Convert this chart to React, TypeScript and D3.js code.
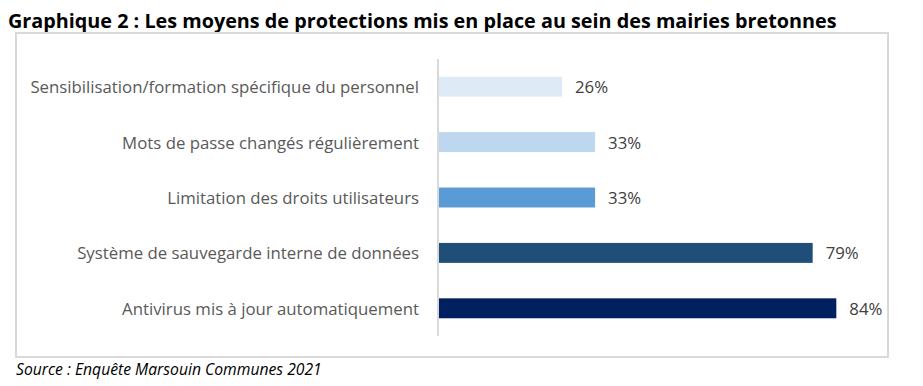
import React from "react";
import * as d3 from "d3";

const categories = [
  "Sensibilisation/formation spécifique du personnel",
  "Mots de passe changés régulièrement",
  "Limitation des droits utilisateurs",
  "Système de sauvegarde interne de données",
  "Antivirus mis à jour automatiquement",
];
const values = [0.26, 0.33, 0.33, 0.79, 0.84];
const colors = ["#DEEBF7", "#BDD7EE", "#5B9BD5", "#1F4E79", "#002060"];
const title = "Graphique 2 : Les moyens de protections mis en place au sein des mairies bretonnes";
const source = "Source : Enquête Marsouin Communes 2021";

const W = 923;
const H = 386;
const FONT = "'Open Sans', sans-serif";

export default function App() {
  const axisX = 438;
  const x = d3.scaleLinear().domain([0, 1]).range([0, 473]);
  const y = d3
    .scaleBand<string>()
    .domain(categories)
    .range([59, 336])
    .paddingInner(0.64)
    .paddingOuter(0.32);
  const fmt = d3.format(".0%");

  return (
    <svg
      width={W}
      height={H}
      style={{ position: "absolute", left: 0, top: 0, background: "#fff" }}
      fontFamily={FONT}
    >
      <text x={8} y={28} fontSize={19.8} fontWeight="bold" fill="#000">
        {title}
      </text>
      <rect x={16} y={33} width={872} height={324} fill="#fff" stroke="#d9d9d9" strokeWidth={2} />
      <line x1={axisX} x2={axisX} y1={59} y2={336} stroke="#d9d9d9" strokeWidth={2} />
      {categories.map((c, i) => {
        const yc = (y(c) as number) + y.bandwidth() / 2;
        return (
          <g key={c}>
            <rect x={axisX + 1} y={y(c)} width={x(values[i])} height={y.bandwidth()} fill={colors[i]} />
            <text x={419} y={yc} textAnchor="end" dominantBaseline="central" fontSize={16.8} fill="#595959">
              {c}
            </text>
            <text
              x={axisX + 1 + x(values[i]) + 13}
              y={yc}
              dominantBaseline="central"
              fontSize={16.8}
              fill="#404040"
            >
              {fmt(values[i])}
            </text>
          </g>
        );
      })}
      <text x={16} y={375} fontSize={15.7} fontStyle="italic" fill="#000">
        {source}
      </text>
    </svg>
  );
}
